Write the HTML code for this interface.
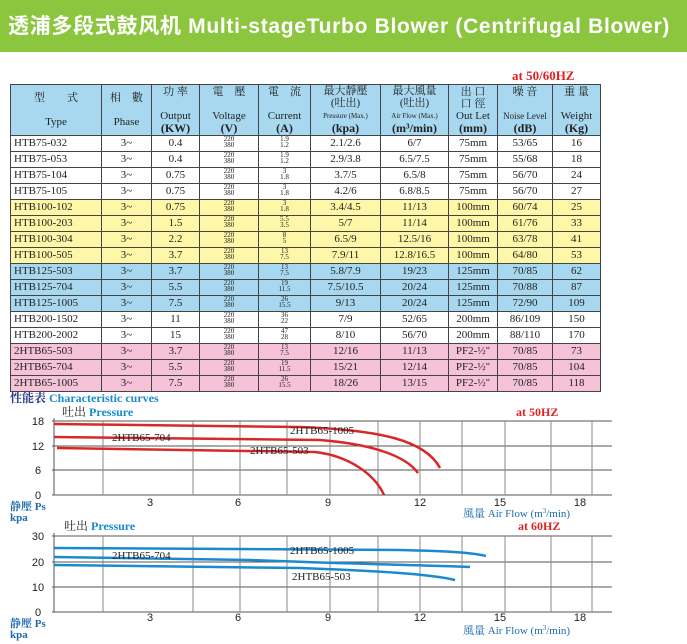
<!DOCTYPE html>
<html><head><meta charset="utf-8"><style>
body{margin:0;width:687px;height:644px;background:#fff;position:relative;overflow:hidden;font-family:"Liberation Serif","Noto Serif CJK SC",serif}
.banner{position:absolute;left:0;top:0;width:687px;height:52px;background:#8cc63f;color:#fff;font:bold 21px "Liberation Sans","Noto Sans CJK SC",sans-serif;letter-spacing:0.7px;line-height:54px;padding-left:8px;box-sizing:border-box;white-space:nowrap}
.hz{position:absolute;left:512px;top:68px;color:#e02020;font-weight:bold;font-size:13px}
table{position:absolute;left:10px;top:84px;border-collapse:collapse;font-size:11px;color:#222;table-layout:fixed}
td,th{border:1px solid #444;text-align:center;padding:0;height:14.7px;line-height:13px;white-space:nowrap;overflow:hidden}
th{background:#a8d8f0;height:50px;font-weight:normal;line-height:12px;font-size:11px}
th b{font-size:12px}
td.l{text-align:left;padding-left:3px}
.f{font-size:7px;line-height:6px;display:inline-block}
.y td{background:#fff7a8}.b td{background:#a8d8f0}.p td{background:#f5c2d8}
.sm{font-size:7px}
svg{position:absolute;left:0;top:390px}
</style></head><body>
<div class="banner">透浦多段式鼓风机 Multi-stageTurbo Blower (Centrifugal Blower)</div>
<div class="hz">at 50/60HZ</div>
<table>
<colgroup><col style="width:91px"><col style="width:50px"><col style="width:48px"><col style="width:59px"><col style="width:52px"><col style="width:70px"><col style="width:68px"><col style="width:49px"><col style="width:55px"><col style="width:48px"></colgroup>
<tr><th>型　　式<br><br>Type</th><th>相　數<br><br>Phase</th><th>功 率<br><br>Output<br><b>(KW)</b></th><th>電　壓<br><br>Voltage<br><b>(V)</b></th><th>電　流<br><br>Current<br><b>(A)</b></th><th>最大靜壓<br>(吐出)<br><span class="sm">Pressure (Max.)</span><br><b>(kpa)</b></th><th>最大風量<br>(吐出)<br><span class="sm">Air Flow (Max.)</span><br><b>(m³/min)</b></th><th>出 口<br>口 徑<br>Out Let<br><b>(mm)</b></th><th>噪 音<br><br><span style="font-size:9px">Noise Level</span><br><b>(dB)</b></th><th>重 量<br><br>Weight<br><b>(Kg)</b></th></tr>
<tr><td class="l">HTB75-032</td><td>3~</td><td>0.4</td><td><span class="f">220<br>380</span></td><td><span class="f">1.9<br>1.2</span></td><td>2.1/2.6</td><td>6/7</td><td>75mm</td><td>53/65</td><td>16</td></tr>
<tr><td class="l">HTB75-053</td><td>3~</td><td>0.4</td><td><span class="f">220<br>380</span></td><td><span class="f">1.9<br>1.2</span></td><td>2.9/3.8</td><td>6.5/7.5</td><td>75mm</td><td>55/68</td><td>18</td></tr>
<tr><td class="l">HTB75-104</td><td>3~</td><td>0.75</td><td><span class="f">220<br>380</span></td><td><span class="f">3<br>1.8</span></td><td>3.7/5</td><td>6.5/8</td><td>75mm</td><td>56/70</td><td>24</td></tr>
<tr><td class="l">HTB75-105</td><td>3~</td><td>0.75</td><td><span class="f">220<br>380</span></td><td><span class="f">3<br>1.8</span></td><td>4.2/6</td><td>6.8/8.5</td><td>75mm</td><td>56/70</td><td>27</td></tr>
<tr class="y"><td class="l">HTB100-102</td><td>3~</td><td>0.75</td><td><span class="f">220<br>380</span></td><td><span class="f">3<br>1.8</span></td><td>3.4/4.5</td><td>11/13</td><td>100mm</td><td>60/74</td><td>25</td></tr>
<tr class="y"><td class="l">HTB100-203</td><td>3~</td><td>1.5</td><td><span class="f">220<br>380</span></td><td><span class="f">5.5<br>3.5</span></td><td>5/7</td><td>11/14</td><td>100mm</td><td>61/76</td><td>33</td></tr>
<tr class="y"><td class="l">HTB100-304</td><td>3~</td><td>2.2</td><td><span class="f">220<br>380</span></td><td><span class="f">8<br>5</span></td><td>6.5/9</td><td>12.5/16</td><td>100mm</td><td>63/78</td><td>41</td></tr>
<tr class="y"><td class="l">HTB100-505</td><td>3~</td><td>3.7</td><td><span class="f">220<br>380</span></td><td><span class="f">13<br>7.5</span></td><td>7.9/11</td><td>12.8/16.5</td><td>100mm</td><td>64/80</td><td>53</td></tr>
<tr class="b"><td class="l">HTB125-503</td><td>3~</td><td>3.7</td><td><span class="f">220<br>380</span></td><td><span class="f">13<br>7.5</span></td><td>5.8/7.9</td><td>19/23</td><td>125mm</td><td>70/85</td><td>62</td></tr>
<tr class="b"><td class="l">HTB125-704</td><td>3~</td><td>5.5</td><td><span class="f">220<br>380</span></td><td><span class="f">19<br>11.5</span></td><td>7.5/10.5</td><td>20/24</td><td>125mm</td><td>70/88</td><td>87</td></tr>
<tr class="b"><td class="l">HTB125-1005</td><td>3~</td><td>7.5</td><td><span class="f">220<br>380</span></td><td><span class="f">26<br>15.5</span></td><td>9/13</td><td>20/24</td><td>125mm</td><td>72/90</td><td>109</td></tr>
<tr><td class="l">HTB200-1502</td><td>3~</td><td>11</td><td><span class="f">220<br>380</span></td><td><span class="f">36<br>22</span></td><td>7/9</td><td>52/65</td><td>200mm</td><td>86/109</td><td>150</td></tr>
<tr><td class="l">HTB200-2002</td><td>3~</td><td>15</td><td><span class="f">220<br>380</span></td><td><span class="f">47<br>28</span></td><td>8/10</td><td>56/70</td><td>200mm</td><td>88/110</td><td>170</td></tr>
<tr class="p"><td class="l">2HTB65-503</td><td>3~</td><td>3.7</td><td><span class="f">220<br>380</span></td><td><span class="f">13<br>7.5</span></td><td>12/16</td><td>11/13</td><td>PF2-½"</td><td>70/85</td><td>73</td></tr>
<tr class="p"><td class="l">2HTB65-704</td><td>3~</td><td>5.5</td><td><span class="f">220<br>380</span></td><td><span class="f">19<br>11.5</span></td><td>15/21</td><td>12/14</td><td>PF2-½"</td><td>70/85</td><td>104</td></tr>
<tr class="p"><td class="l">2HTB65-1005</td><td>3~</td><td>7.5</td><td><span class="f">220<br>380</span></td><td><span class="f">26<br>15.5</span></td><td>18/26</td><td>13/15</td><td>PF2-½"</td><td>70/85</td><td>118</td></tr>
</table>
<svg width="687" height="254" viewBox="0 390 687 254" font-family="Liberation Serif, Noto Serif CJK SC, serif">
<text x="10" y="402" font-size="12" font-weight="bold" fill="#2a3a8a">性能表 <tspan fill="#1a8ad0">Characteristic curves</tspan></text>
<g font-weight="bold" font-size="12">
<text x="62" y="416" fill="#222" font-weight="normal">吐出 <tspan fill="#1a8ad0" font-weight="bold">Pressure</tspan></text>
<text x="516" y="416" fill="#e02020">at  50HZ</text>
<text x="64" y="530" fill="#222" font-weight="normal">吐出 <tspan fill="#1a8ad0" font-weight="bold">Pressure</tspan></text>
<text x="518" y="530" fill="#e02020">at  60HZ</text>
</g>
<g stroke="#555" stroke-width="1">
<line x1="52" y1="421" x2="612" y2="421"/><line x1="52" y1="446" x2="612" y2="446"/><line x1="52" y1="470" x2="612" y2="470"/><line x1="52" y1="495" x2="612" y2="495"/>
<line x1="52" y1="536" x2="612" y2="536"/><line x1="52" y1="562" x2="612" y2="562"/><line x1="52" y1="587" x2="612" y2="587"/><line x1="52" y1="612" x2="612" y2="612"/>
<line x1="54" y1="418" x2="54" y2="495"/><line x1="54" y1="533" x2="54" y2="612"/>
<g stroke="#888">
<path d="M103 421V495M193 421V495M240 421V495M287 421V495M330 421V495M378 421V495M420 421V495M462 421V495M505 421V495M551 421V495M592 421V495"/>
<path d="M103 536V612M193 536V612M240 536V612M287 536V612M330 536V612M378 536V612M420 536V612M462 536V612M505 536V612M551 536V612M592 536V612"/>
</g></g>
<g font-family="Liberation Sans, sans-serif" font-size="11" fill="#222" text-anchor="middle">
<text x="38" y="425">18</text><text x="38" y="450">12</text><text x="38" y="474">6</text><text x="38" y="499">0</text>
<text x="150" y="506">3</text><text x="238" y="506">6</text><text x="328" y="506">9</text><text x="420" y="506">12</text><text x="500" y="506">15</text><text x="580" y="506">18</text>
<text x="38" y="540">30</text><text x="38" y="566">20</text><text x="38" y="591">10</text><text x="38" y="616">0</text>
<text x="150" y="621">3</text><text x="238" y="621">6</text><text x="328" y="621">9</text><text x="420" y="621">12</text><text x="500" y="621">15</text><text x="580" y="621">18</text>
</g>
<g font-size="11" fill="#1a6ab0" font-weight="bold">
<text x="10" y="510">静壓 Ps</text><text x="10" y="521">kpa</text>
<text x="10" y="627">静壓 Ps</text><text x="10" y="638">kpa</text>
</g>
<g font-size="11" fill="#1a6ab0">
<text x="463" y="517">風量  Air Flow (m<tspan font-size="7" dy="-4">3</tspan><tspan dy="4">/min)</tspan></text>
<text x="463" y="634">風量  Air Flow (m<tspan font-size="7" dy="-4">3</tspan><tspan dy="4">/min)</tspan></text>
</g>
<g fill="none" stroke="#d82828" stroke-width="2.5">
<path d="M54 424 L300 427 C380 430 425 440 440 468"/>
<path d="M54 437 L320 440 C370 444 405 455 418 473"/>
<path d="M57 448 L315 452 C350 456 375 475 384 495"/>
</g>
<g fill="none" stroke="#1a8ad0" stroke-width="2.5">
<path d="M54 548 L400 550 C440 551 470 552 486 556"/>
<path d="M54 557 L250 560 C350 564 420 565 470 567"/>
<path d="M54 565 L300 568 C380 571 430 574 455 580"/>
</g>
<g font-size="11" fill="#222">
<text x="290" y="434">2HTB65-1005</text><text x="112" y="441">2HTB65-704</text><text x="250" y="454">2HTB65-503</text>
<text x="290" y="554">2HTB65-1005</text><text x="112" y="559">2HTB65-704</text><text x="292" y="580">2HTB65-503</text>
</g>
</svg>
</body></html>
